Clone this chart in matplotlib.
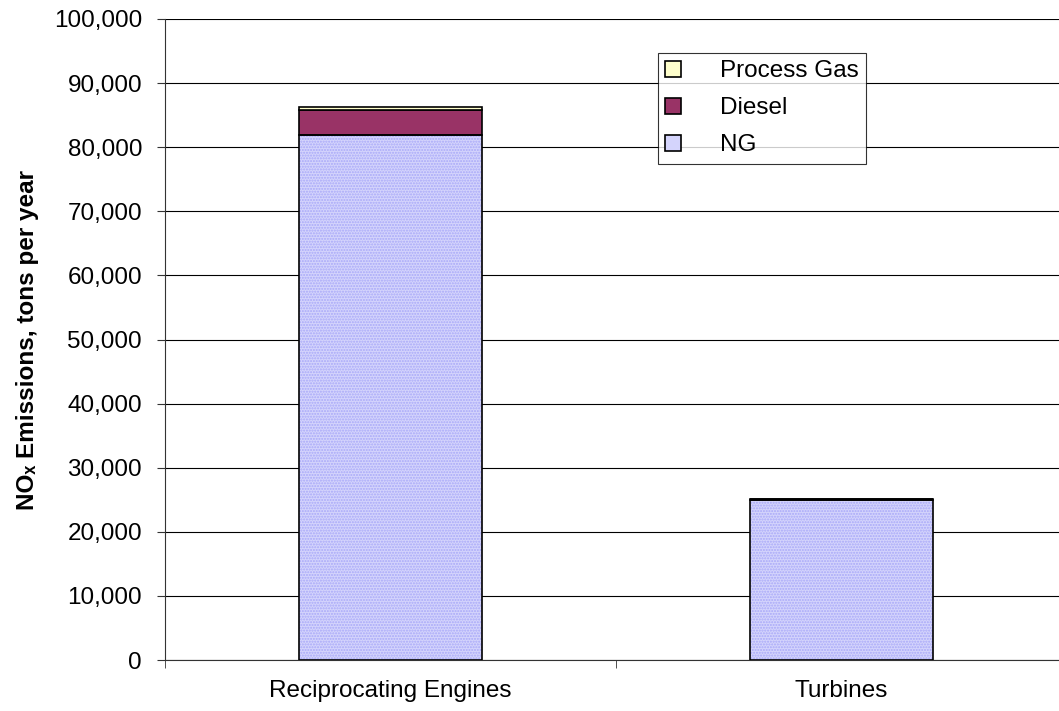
import matplotlib
matplotlib.use("Agg")
import matplotlib.pyplot as plt
from matplotlib.ticker import FuncFormatter, FixedLocator
import numpy as np

plt.rcParams['font.family'] = ['Liberation Sans', 'DejaVu Sans']
FS = 17.5

categories = ['Reciprocating Engines', 'Turbines']
ng = [81900, 24900]
diesel = [3900, 200]
process_gas = [470, 50]

fig = plt.figure(figsize=(10.59, 7.11), dpi=100)
ax = fig.add_axes([0.1558, 0.0717, 0.8518, 0.9016])

x = np.arange(len(categories))
w = 0.404
b1 = ax.bar(x, ng, w, color='#d4d4fc', edgecolor='#a8a8f8', linewidth=0, hatch='......',
            label='NG', zorder=3)
# outline in black
ax.bar(x, ng, w, fill=False, edgecolor='black', linewidth=1.2, zorder=4)
b2 = ax.bar(x, diesel, w, bottom=ng, color='#993366', edgecolor='black', linewidth=1.2,
            label='Diesel', zorder=3)
bot = np.array(ng) + np.array(diesel)
b3 = ax.bar(x, process_gas, w, bottom=bot, color='#ffffcc', edgecolor='black', linewidth=1.2,
            label='Process Gas', zorder=3)

ax.set_xlim(-0.5, 1.5)
ax.set_ylim(0, 100000)
ax.set_yticks(np.arange(0, 100001, 10000))
ax.yaxis.set_major_formatter(FuncFormatter(lambda v, p: f'{int(v):,}'))
ax.yaxis.grid(True, color='black', linewidth=0.8, zorder=0)
ax.set_axisbelow(True)

ax.set_xticks(x)
ax.set_xticklabels(categories, fontsize=FS)
ax.tick_params(axis='x', length=0, pad=14.5)
ax.xaxis.set_minor_locator(FixedLocator([-0.5, 0.5, 1.5]))
ax.tick_params(axis='x', which='minor', length=6, color='#333333')
ax.tick_params(axis='y', labelsize=FS, length=6, pad=10.5, color='#333333')

for s in ['top', 'right']:
    ax.spines[s].set_visible(False)
ax.spines['left'].set_color('#333333')
ax.spines['bottom'].set_color('#333333')

ax.set_ylabel('NOₓ Emissions, tons per year', fontsize=FS, fontweight='bold', labelpad=11)

h = [b3, b2, b1]
leg = ax.legend(h, ['Process Gas', 'Diesel', 'NG'], loc='upper left',
                bbox_to_anchor=((658 - 165) / 902, 0.947), fontsize=FS, frameon=True,
                fancybox=False, edgecolor='black', handlelength=0.66, handleheight=0.66,
                handletextpad=1.6, labelspacing=0.62, borderpad=0.3, borderaxespad=0)
leg.get_frame().set_linewidth(0.8)
leg.set_zorder(5)
for hd in leg.legend_handles:
    hd.set_edgecolor('black')
    hd.set_linewidth(1.2)
    hd.set_hatch(None)

fig.savefig('out.png', dpi=100)
